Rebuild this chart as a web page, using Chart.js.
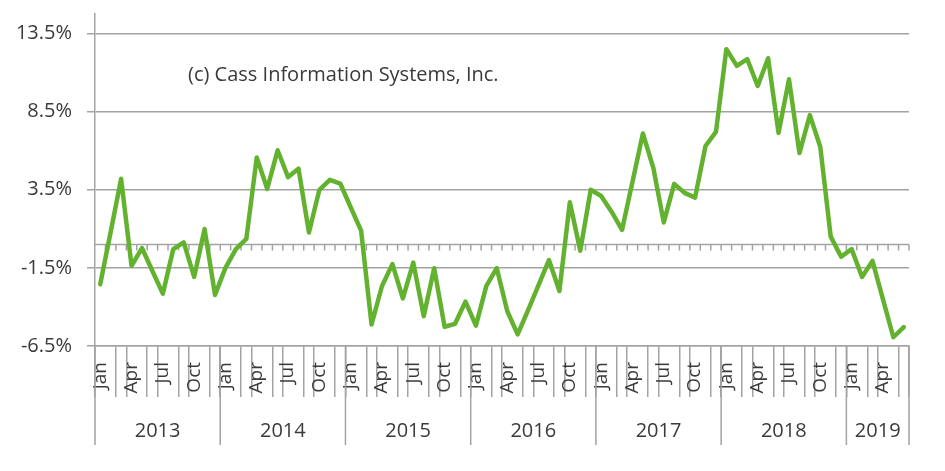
<!DOCTYPE html>
<html>
<head>
<meta charset="utf-8">
<script src="https://cdn.jsdelivr.net/npm/chart.js@4.4.0/dist/chart.umd.min.js"></script>
<style>
    html, body { margin: 0; background: #fff; }
</style>
</head>
<body>
<canvas id="grafico" width="945" height="471"></canvas>
<script>
// Cass Freight Index - variação anual (jan 2013 a jun 2019)
const years      = ['2013', '2014', '2015', '2016', '2017', '2018', '2019'];
const monthNames = ['Jan', 'Feb', 'Mar', 'Apr', 'May', 'Jun', 'Jul', 'Aug', 'Sep', 'Oct', 'Nov', 'Dec'];

const values2013 = [-2.55, 0.8, 4.2, -1.37, -0.23, -1.7, -3.15, -0.3, 0.13, -2.08, 0.99, -3.23];
const values2014 = [-1.5, -0.3, 0.35, 5.56, 3.56, 6.03, 4.31, 4.85, 0.77, 3.5, 4.14, 3.9];
const values2015 = [2.38, 0.88, -5.12, -2.66, -1.26, -3.45, -1.16, -4.59, -1.52, -5.27, -5.08, -3.66];
const values2016 = [-5.2, -2.65, -1.52, -4.26, -5.76, -4.2, -2.6, -1.0, -2.98, 2.7, -0.4, 3.5];
const values2017 = [3.1, 2.1, 0.93, 4.0, 7.1, 4.9, 1.41, 3.88, 3.3, 3.0, 6.3, 7.2];
const values2018 = [12.5, 11.43, 11.86, 10.14, 11.92, 7.14, 10.57, 5.85, 8.28, 6.24, 0.5, -0.79];
const values2019 = [-0.3, -2.08, -1.05, -3.5, -5.94, -5.29];

const yTicks = [-6.5, -1.5, 3.5, 8.5, 13.5];
const copyrightText = '(c) Cass Information Systems, Inc.';

const values = [].concat(values2013, values2014, values2015, values2016, values2017, values2018, values2019);

const categories = [];
years.forEach(ano => {
    monthNames.forEach(mes => categories.push(mes + ' ' + ano));
});
categories.length = values.length;

const gridColor = '#a3a3a3';
const textColor = '#3a3a3a';
const lineGreen = '#62b22f';
const fontFamily = "'Open Sans', sans-serif";

// linha do zero com tracinhos, separadores dos anos e rótulos dos anos
const eixosExtras = {
    id: 'eixosExtras',
    beforeDatasetsDraw(chart) {
        const { ctx, chartArea, scales: { x, y } } = chart;
        const y0   = y.getPixelForValue(0);
        const half = (x.getPixelForValue(1) - x.getPixelForValue(0)) / 2;
        ctx.save();
        ctx.strokeStyle = gridColor;
        ctx.lineWidth   = 1.5;
        ctx.beginPath();
        ctx.moveTo(chartArea.left, y0);
        ctx.lineTo(chartArea.right, y0);
        for (let i = 1; i <= values.length; i++) {
            const px = x.getPixelForValue(i - 1) + half;
            ctx.moveTo(px, y0);
            ctx.lineTo(px, y0 + 6);
        }
        ctx.stroke();
        ctx.restore();
    },
    afterDraw(chart) {
        const { ctx, chartArea, scales: { x } } = chart;
        const half   = (x.getPixelForValue(1) - x.getPixelForValue(0)) / 2;
        const bottom = chartArea.bottom + 99;
        ctx.save();
        ctx.strokeStyle = gridColor;
        ctx.lineWidth   = 1.5;
        ctx.beginPath();
        for (let i = 0; i <= values.length; i += 12) {
            const px = x.getPixelForValue(i) - half;
            ctx.moveTo(px, chartArea.bottom);
            ctx.lineTo(px, bottom);
        }
        const lastPx = x.getPixelForValue(values.length - 1) + half;
        ctx.moveTo(lastPx, chartArea.bottom);
        ctx.lineTo(lastPx, bottom);
        ctx.stroke();

        ctx.fillStyle    = textColor;
        ctx.font         = '20px ' + fontFamily;
        ctx.textAlign    = 'center';
        ctx.textBaseline = 'middle';
        years.forEach((ano, k) => {
            const first = k * 12;
            const last  = Math.min(first + 11, values.length - 1);
            const cx    = (x.getPixelForValue(first) + x.getPixelForValue(last)) / 2;
            ctx.fillText(ano, cx, chartArea.bottom + 85);
        });

        ctx.textAlign = 'left';
        ctx.fillText(copyrightText, 188, 75);
        ctx.restore();
    }
};

const ctx = document.getElementById('grafico').getContext('2d');
new Chart(ctx, {
    type: 'line',
    data: {
        labels: categories,
        datasets: [{
            data: values,
            borderColor: lineGreen,
            borderWidth: 4.5,
            borderJoinStyle: 'round',
            borderCapStyle: 'round',
            pointRadius: 0,
            tension: 0
        }]
    },
    options: {
        responsive: false,
        animation: false,
        devicePixelRatio: 1,
        layout: { padding: { top: 14, right: 36, left: 0, bottom: 0 } },
        plugins: {
            legend:  { display: false },
            tooltip: { enabled: false }
        },
        scales: {
            x: {
                type: 'category',
                offset: true,
                grid: {
                    offset: true,
                    drawOnChartArea: false,
                    tickLength: 51,
                    lineWidth: 1.5,
                    color: c => (c.index % 3 === 1 ? 'rgba(0,0,0,0)' : gridColor)
                },
                border: { color: gridColor, width: 1.5 },
                ticks: {
                    autoSkip: false,
                    minRotation: 90,
                    maxRotation: 90,
                    padding: -35,
                    color: textColor,
                    font: { family: fontFamily, size: 19 },
                    callback: (v, i) => (i % 3 === 0 ? monthNames[i % 12] : '')
                },
                afterFit: s => {
                    s.height = 125;
                    s.paddingLeft = 0;
                    s.paddingRight = 0;
                }
            },
            y: {
                min: -6.5,
                max: 14.75,
                afterBuildTicks: s => { s.ticks = yTicks.map(v => ({ value: v })); },
                grid: { color: gridColor, lineWidth: 1.5, tickLength: 8 },
                border: { color: gridColor, width: 1.5 },
                ticks: {
                    padding: 15,
                    color: textColor,
                    font: { family: fontFamily, size: 20 },
                    callback: v => v.toFixed(1) + '%'
                },
                afterFit: s => {
                    s.width = 95;
                    s.paddingTop = 0;
                    s.paddingBottom = 0;
                }
            }
        }
    },
    plugins: [eixosExtras]
});
</script>
</body>
</html>
